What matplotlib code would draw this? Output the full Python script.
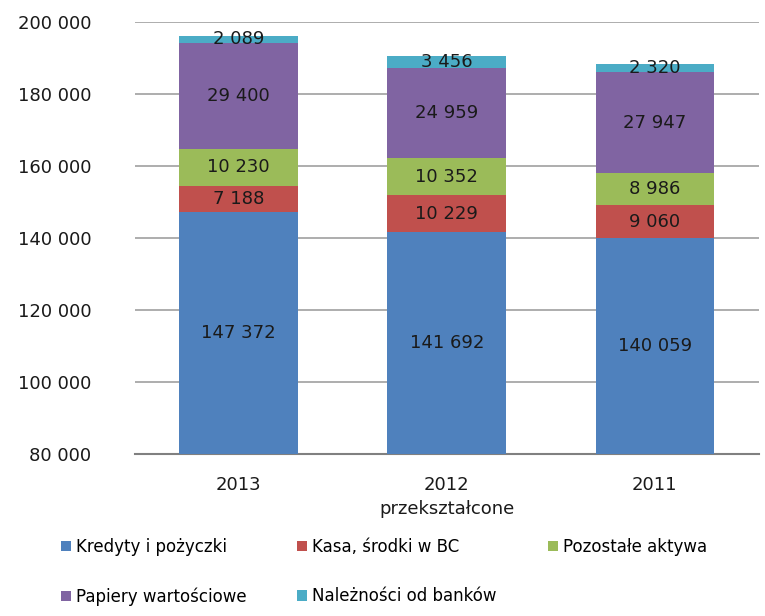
import numpy as np
import matplotlib.pyplot as plt

years = ["2013", "2012\nprzekształcone", "2011"]
series_names = ["Kredyty i pożyczki", "Kasa, środki w BC", "Pozostałe aktywa",
                "Papiery wartościowe", "Należności od banków"]
kredyty = [147372, 141692, 140059]
kasa = [7188, 10229, 9060]
pozostale = [10230, 10352, 8986]
papiery = [29400, 24959, 27947]
naleznosci = [2089, 3456, 2320]
colors = ["#4F81BD", "#C0504D", "#9BBB59", "#8064A2", "#4BACC6"]

plt.rcParams['font.family'] = ['DejaVu Sans']

def fmt(v):
    return f"{v:,}".replace(",", " ")

fig = plt.figure(figsize=(7.65, 6.16), dpi=100)
ax = fig.add_axes([0.176, 0.263, 0.816, 0.701])

ymin, ymax = 80000, 200000
x = np.arange(len(years))
bottom = np.zeros(len(years))
handles = []
for name, vals, c in zip(series_names, [kredyty, kasa, pozostale, papiery, naleznosci], colors):
    vals = np.array(vals, dtype=float)
    b = ax.bar(x, vals, 0.57, bottom=bottom, color=c, label=name, zorder=3)
    handles.append(b)
    for xi, v, bt in zip(x, vals, bottom):
        # label in the middle of the visible part of the segment
        lo = max(bt, ymin)
        ax.text(xi, (lo + bt + v) / 2, fmt(int(v)), ha='center', va='center',
                fontsize=13, color='#1a1a1a', zorder=4)
    bottom += vals

ax.set_xlim(-0.5, 2.5)
ax.set_ylim(ymin, ymax)
ax.set_yticks(np.arange(ymin, ymax + 1, 20000))
ax.set_yticklabels([fmt(v) for v in range(ymin, ymax + 1, 20000)], fontsize=13, color='#1a1a1a')
ax.set_xticks(x)
ax.set_xticklabels(years, fontsize=13, color='#1a1a1a', linespacing=1.4)
ax.tick_params(axis='both', length=0)
ax.tick_params(axis='y', pad=31)
ax.tick_params(axis='x', pad=16)
ax.grid(axis='y', color='#A0A0A0', linewidth=1.2, zorder=0)
for s in ['top', 'right', 'left']:
    ax.spines[s].set_visible(False)
ax.spines['bottom'].set_color('#808080')
ax.spines['bottom'].set_linewidth(1.5)

# legend is filled row by row in the reference
order = [0, 3, 1, 4, 2]
fig.legend([handles[i] for i in order], [series_names[i] for i in order],
           ncol=3, loc='lower left', bbox_to_anchor=(0.06, -0.008), frameon=False,
           fontsize=12, handlelength=0.6, handleheight=0.6, handletextpad=0.3,
           labelspacing=1.9, columnspacing=3.05)

fig.savefig("out.png", dpi=100)
